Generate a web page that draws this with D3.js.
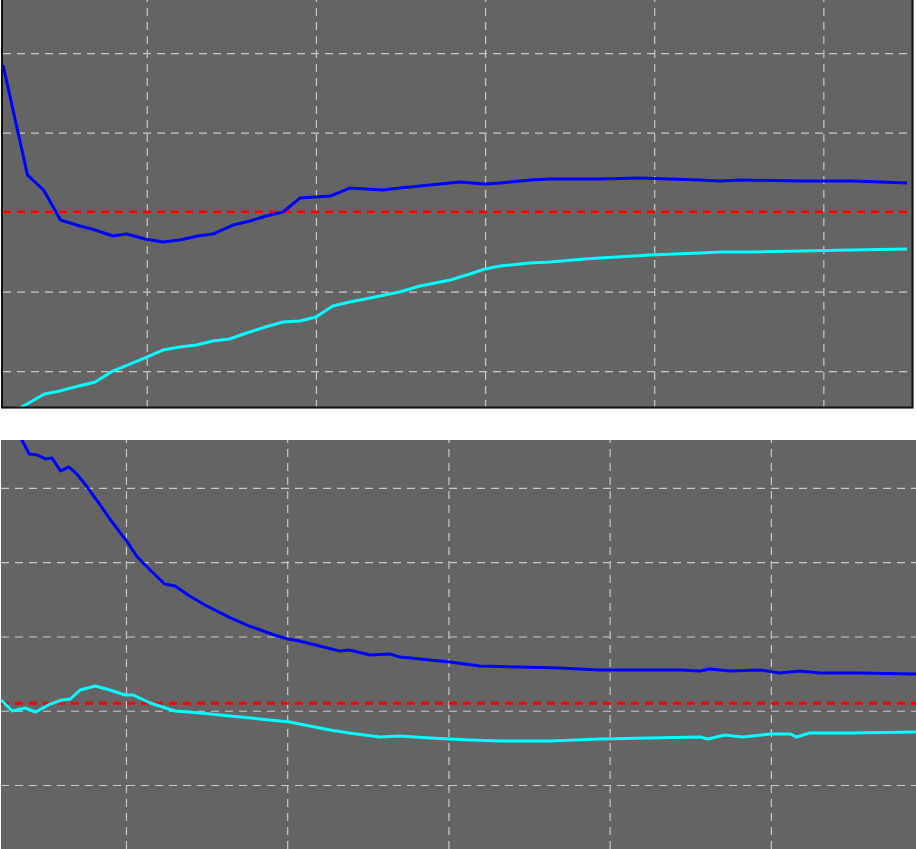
<!DOCTYPE html>
<html>
<head>
<meta charset="utf-8">
<script src="https://cdn.jsdelivr.net/npm/d3@7"></script>
<style>
  html, body { margin: 0; padding: 0; background: #ffffff; }
  svg { display: block; }
</style>
</head>
<body>
<div id="chart"></div>
<script>
// ---------------- DATA ----------------
// Top panel
const topTicksX = [20, 40, 60, 80, 100];
const topTicksY = [-0.2, -0.1, 0, 0.1, 0.2];
const topReference = 0;

const topBlueX = [3, 5.9, 7.8, 9.8, 12.1, 13.9, 16, 17.6, 19.8, 21.9, 23.9, 26, 27.8, 30.2, 32.2, 34.1, 36.1, 38.1, 41.7, 44, 47.9, 49.9, 53.5, 57, 60, 61.8, 65.3, 67.7, 73.6, 78.3, 85.4, 87.8, 90.2, 97.3, 103.2, 106.8, 109.9];
const topBlueY = [0.185, 0.0465, 0.0277, -0.0101, -0.0176, -0.0226, -0.0302, -0.0277, -0.034, -0.0377, -0.0352, -0.0302, -0.0277, -0.0164, -0.0113, -0.005, 0, 0.0176, 0.0201, 0.0302, 0.0277, 0.0302, 0.034, 0.0377, 0.0352, 0.0365, 0.0403, 0.0415, 0.0415, 0.0428, 0.0403, 0.039, 0.0403, 0.039, 0.039, 0.0377, 0.0365];

const topCyanX = [3, 5, 7.9, 9.7, 11.5, 13.9, 16, 18, 20, 21.9, 23.9, 25.9, 27.8, 29.8, 31.8, 34, 36.1, 38.1, 40, 42, 44, 46.4, 49.9, 52.3, 55.9, 58.2, 60, 61.8, 65.3, 67.7, 71.8, 73.6, 79.5, 85.4, 87.8, 91.4, 97.3, 103.2, 109.9];
const topCyanY = [-0.259, -0.2465, -0.2289, -0.2252, -0.2201, -0.2138, -0.2, -0.1912, -0.1824, -0.1736, -0.1698, -0.1673, -0.1623, -0.1597, -0.1522, -0.1447, -0.1384, -0.1371, -0.1321, -0.1182, -0.1132, -0.1082, -0.1006, -0.0931, -0.0855, -0.078, -0.0717, -0.0679, -0.0642, -0.0629, -0.0591, -0.0579, -0.0541, -0.0516, -0.0503, -0.0503, -0.0491, -0.0478, -0.0465];

// Bottom panel
const botTicksX = [20, 40, 60, 80, 100];
const botTicksY = [0, 0.1, 0.2, 0.3, 0.4];
const botReference = 0.11;

const botBlueX = [6.6, 7.1, 8, 9, 10, 10.8, 11.9, 12.9, 13.9, 15.2, 16.8, 18, 19.3, 20.1, 21.4, 23, 24.8, 26.1, 27.9, 29.8, 32.7, 35.3, 38.4, 40.1, 41.5, 44, 46.5, 47.7, 50.3, 52.7, 54, 56.5, 60.2, 63.9, 68.9, 73.8, 78.8, 83.8, 88.7, 91.2, 92.4, 94.9, 98.6, 101.1, 103.6, 106.1, 111, 118];
const botBlueY = [0.4781, 0.4646, 0.4458, 0.4444, 0.4391, 0.4404, 0.4229, 0.4283, 0.4189, 0.4013, 0.3771, 0.3582, 0.3394, 0.3286, 0.3071, 0.2896, 0.2707, 0.268, 0.2545, 0.2424, 0.2263, 0.2141, 0.202, 0.1966, 0.1939, 0.1872, 0.1805, 0.1818, 0.1751, 0.1764, 0.1724, 0.1697, 0.1657, 0.1603, 0.1589, 0.1576, 0.1549, 0.1549, 0.1549, 0.1535, 0.1562, 0.1535, 0.1549, 0.1508, 0.1535, 0.1508, 0.1508, 0.1495];

const botCyanX = [4.5, 5.9, 7.5, 8.8, 10.6, 12.1, 13.1, 14.3, 16.2, 18, 19.9, 20.9, 23, 26.1, 29.2, 32.9, 36.6, 40.3, 42.8, 45.3, 47.7, 51.5, 54, 57.7, 62.7, 66.4, 72.6, 78.8, 85, 91.2, 92.2, 94.3, 96.5, 99.9, 102.4, 103.2, 104.8, 109.8, 118];
const botCyanY = [0.1145, 0.0997, 0.1037, 0.0983, 0.1091, 0.1145, 0.1158, 0.1279, 0.1333, 0.1279, 0.1212, 0.1212, 0.1104, 0.0997, 0.097, 0.0929, 0.0889, 0.0848, 0.0795, 0.0741, 0.07, 0.0646, 0.066, 0.0633, 0.0606, 0.0593, 0.0593, 0.062, 0.0633, 0.0646, 0.062, 0.0673, 0.0646, 0.0687, 0.0687, 0.0646, 0.07, 0.07, 0.0714];

// ---------------- LAYOUT ----------------
const W = 916, H = 849;
const panels = [
  {
    id: "top", x0: 3, x1: 913, y0: 0, y1: 408,
    xDomain: [3, 110.6], yDomain: [-0.2465, 0.2667],
    ticksX: topTicksX, ticksY: topTicksY, ref: topReference, border: true,
    series: [
      { x: topBlueX, y: topBlueY, color: "#0000ff" },
      { x: topCyanX, y: topCyanY, color: "#00ffff" }
    ]
  },
  {
    id: "bot", x0: 1, x1: 916, y0: 440, y1: 849,
    xDomain: [4.5, 118], yDomain: [-0.0862, 0.4646],
    ticksX: botTicksX, ticksY: botTicksY, ref: botReference, border: false,
    series: [
      { x: botBlueX, y: botBlueY, color: "#0000ff" },
      { x: botCyanX, y: botCyanY, color: "#00ffff" }
    ]
  }
];

const svg = d3.select("#chart").append("svg")
  .attr("width", W).attr("height", H)
  .style("background", "#ffffff");

const defs = svg.append("defs");

panels.forEach(p => {
  const xs = d3.scaleLinear().domain(p.xDomain).range([p.x0, p.x1]);
  const ys = d3.scaleLinear().domain(p.yDomain).range([p.y1, p.y0]);

  defs.append("clipPath").attr("id", "clip-" + p.id)
    .append("rect").attr("x", p.x0).attr("y", p.y0)
    .attr("width", p.x1 - p.x0).attr("height", p.y1 - p.y0);

  const g = svg.append("g").attr("clip-path", `url(#clip-${p.id})`);

  g.append("rect").attr("x", p.x0).attr("y", p.y0)
    .attr("width", p.x1 - p.x0).attr("height", p.y1 - p.y0)
    .attr("fill", "#646464");

  // grid via axes
  const gx = g.append("g").attr("transform", `translate(0,${p.y1})`)
    .call(d3.axisBottom(xs).tickValues(p.ticksX).tickSize(-(p.y1 - p.y0)).tickFormat(""));
  const gy = g.append("g").attr("transform", `translate(${p.x0},0)`)
    .call(d3.axisLeft(ys).tickValues(p.ticksY).tickSize(-(p.x1 - p.x0)).tickFormat(""));
  [gx, gy].forEach(a => {
    a.select(".domain").remove();
    a.selectAll(".tick line")
      .attr("stroke", "#c8c8c8")
      .attr("stroke-width", 1.2)
      .attr("stroke-dasharray", "8,6");
  });

  // reference line
  g.append("line")
    .attr("x1", p.x0).attr("x2", p.x1)
    .attr("y1", ys(p.ref)).attr("y2", ys(p.ref))
    .attr("stroke", "#ff0000").attr("stroke-width", 3)
    .attr("stroke-dasharray", "8,6");

  const line = d3.line().x(d => xs(d[0])).y(d => ys(d[1]));
  p.series.forEach(s => {
    const pts = s.x.map((v, i) => [v, s.y[i]]);
    g.append("path").datum(pts)
      .attr("d", line)
      .attr("fill", "none")
      .attr("stroke", s.color)
      .attr("stroke-width", 3)
      .attr("stroke-linejoin", "round");
  });

  if (p.border) {
    svg.append("path")
      .attr("d", `M${p.x0 - 1},${p.y0} V${p.y1} H${p.x1} V${p.y0}`)
      .attr("fill", "none").attr("stroke", "#a8a8a8").attr("stroke-width", 1);
    svg.append("path")
      .attr("d", `M${p.x0 - 1},${p.y0} V${p.y1 - 0.5} H${p.x1 - 0.5} V${p.y0}`)
      .attr("fill", "none").attr("stroke", "#111111").attr("stroke-width", 2);
  }
});
</script>
</body>
</html>
